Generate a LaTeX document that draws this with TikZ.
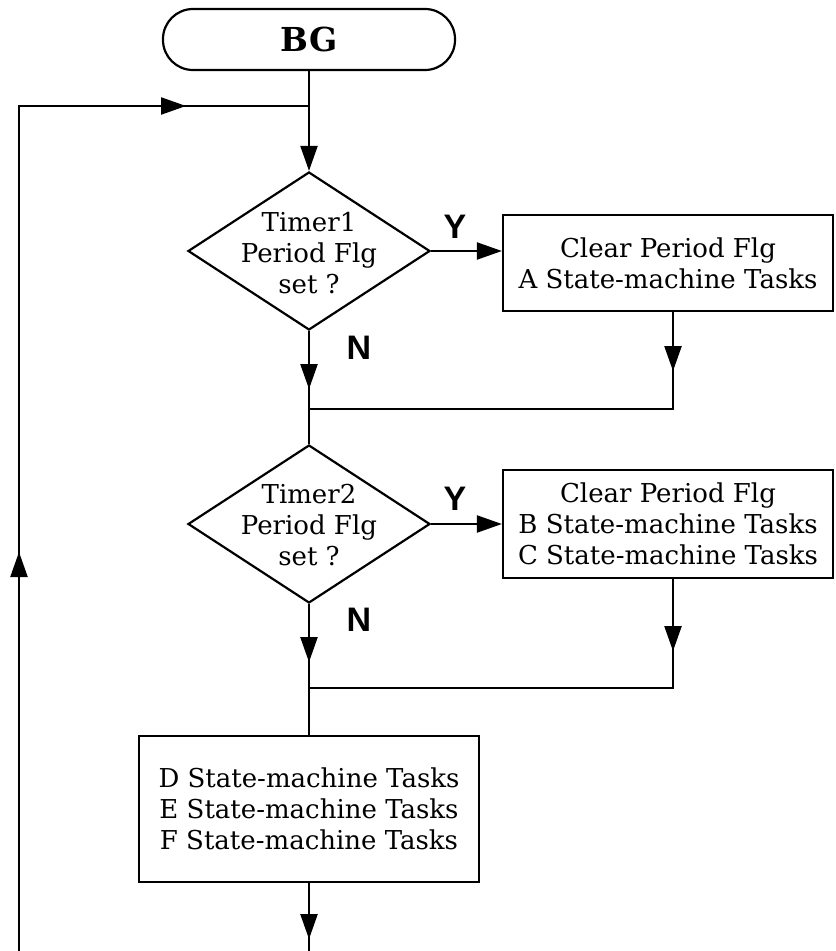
\documentclass[tikz,border=0pt]{standalone}
\usepackage{fontspec}
\setmainfont{DejaVu Serif}
\newfontfamily\ynfont{Liberation Sans}
\usetikzlibrary{arrows.meta,shapes.geometric,decorations.markings}

\tikzset{
  terminal/.style={draw, rounded corners=15pt, minimum width=146pt, minimum height=30.5pt,
    font=\fontsize{16.5}{19}\selectfont\bfseries},
  decision/.style={draw, diamond, minimum width=121pt, minimum height=79pt, inner sep=0pt},
  process/.style={draw, rectangle, align=center, inner sep=0pt},
  yn/.style={font=\ynfont\bfseries\fontsize{17}{20}\selectfont},
  flow/.style={-{Triangle[length=12.5pt,width=8.5pt]}},
  midtip/.style={postaction={decorate}, decoration={markings,
    mark=at position #1 with {\arrow{Triangle[length=12.5pt,width=8.5pt]}}}}
}

\begin{document}
\begin{tikzpicture}[x=0.5pt, y=-0.5pt, line width=1.1pt,
  every node/.append style={font=\fontsize{13}{15.5}\selectfont}]
\useasboundingbox (0,0) rectangle (835,951);

% Start
\node [terminal] (bg) at (309,39.5) {BG};

% Timer1 check
\node [decision] (tmr1) at (309,251) {};
\node [align=center] (tmr1txt) at (309,253) {Timer1\\Period Flg\\set ?};
\node [process, minimum width=165pt, minimum height=48pt] (taskA) at (668,263)
  {Clear Period Flg\\A State-machine Tasks};
\node [yn] (y1) at (455,227) {Y};
\node [yn] (n1) at (359,348) {N};

% Timer2 check
\node [decision] (tmr2) at (309,524) {};
\node [align=center] (tmr2txt) at (309,525) {Timer2\\Period Flg\\set ?};
\node [process, minimum width=165pt, minimum height=54pt] (taskBC) at (668,524)
  {Clear Period Flg\\B State-machine Tasks\\C State-machine Tasks};
\node [yn] (y2) at (455,499) {Y};
\node [yn] (n2) at (359,620) {N};

% Remaining tasks
\node [process, minimum width=170pt, minimum height=73pt] (taskDEF) at (309,809)
  {D State-machine Tasks\\E State-machine Tasks\\F State-machine Tasks};

% Junctions
\coordinate (loopin) at (309,106);
\coordinate (loopcorner) at (19,106);
\coordinate (loopbot) at (19,951);
\coordinate (endbot) at (309,951);
\coordinate (join1) at (309,409);
\coordinate (join1r) at (673,409);
\coordinate (join2) at (309,688);
\coordinate (join2r) at (673,688);

% Main flow
\draw [flow] (bg) -- (tmr1);
\draw [flow] (tmr1.east) -- (tmr1.east -| taskA.west);
\draw [midtip=29.5pt] (taskA.south -| join1r) -- (join1r) -- (join1);
\draw [midtip=29pt] (tmr1.south) -- (join1) -- (tmr2.north);

\draw [flow] (tmr2.east) -- (taskBC.west);
\draw [midtip=36pt] (taskBC.south -| join2r) -- (join2r) -- (join2);
\draw [midtip=29pt] (tmr2.south) -- (join2) -- (taskDEF.north);

\draw [midtip=28pt] (taskDEF.south) -- (endbot);

% Loop back
\draw [midtip=199.5pt] (loopbot) -- (loopcorner) -- (loopin);
\draw [midtip=506pt] (loopbot) -- (loopcorner) -- (loopin);

\end{tikzpicture}
\end{document}
